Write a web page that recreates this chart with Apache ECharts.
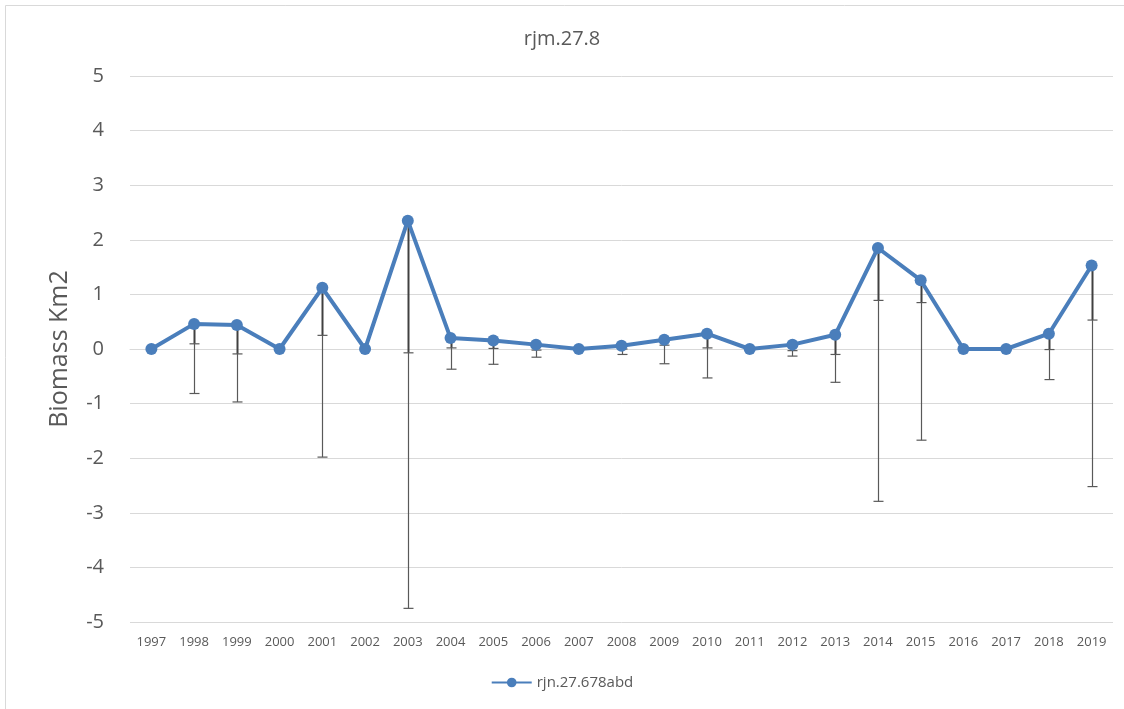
<!DOCTYPE html>
<html>
<head>
<meta charset="utf-8">
<script src="https://cdn.jsdelivr.net/npm/echarts@6/dist/echarts.min.js"></script>
<style>
html,body{margin:0;padding:0;background:#fff;}
#chart{width:1124px;height:709px;}
</style>
</head>
<body>
<div id="chart"></div>
<script>
const years = ['1997','1998','1999','2000','2001','2002','2003','2004','2005','2006','2007','2008','2009','2010','2011','2012','2013','2014','2015','2016','2017','2018','2019'];
const values = [0, 0.46, 0.44, 0, 1.12, 0, 2.35, 0.20, 0.155, 0.08, 0, 0.06, 0.17, 0.28, 0, 0.08, 0.26, 1.85, 1.26, 0, 0, 0.28, 1.53];
const errUpper = [null, 0.095, -0.09, null, 0.25, null, -0.07, 0.02, 0.01, -0.02, null, 0.0, 0.07, 0.02, null, -0.03, -0.10, 0.89, 0.85, null, null, -0.01, 0.53];
const errLower = [null, -0.815, -0.97, null, -1.98, null, -4.75, -0.37, -0.28, -0.15, null, -0.10, -0.27, -0.53, null, -0.13, -0.61, -2.79, -1.67, null, null, -0.56, -2.52];
const yTicks = [-5, -4, -3, -2, -1, 0, 1, 2, 3, 4, 5];
const seriesName = 'rjn.27.678abd';
const titleText = 'rjm.27.8';
const yName = 'Biomass Km2';

const FONT = '"Open Sans", "Noto Sans", sans-serif';
const TXT = '#595959';
const errData = years.map((y, i) => [i, values[i], errUpper[i], errLower[i]]).filter(d => d[2] !== null);

const chart = echarts.init(document.getElementById('chart'));
chart.setOption({
  animation: false,
  backgroundColor: '#fff',
  title: {
    text: titleText, left: 'center', top: 24,
    textStyle: { fontFamily: FONT, fontSize: 20, fontWeight: 'normal', color: TXT }
  },
  graphic: [
    { type: 'polyline', shape: { points: [[5.5, 709], [5.5, 5.5], [1124, 5.5]] }, style: { stroke: '#d9d9d9', lineWidth: 1, fill: null }, silent: true }
  ],
  legend: {
    bottom: 14, left: 'center',
    itemWidth: 40, itemHeight: 12, itemGap: 4,
    textStyle: { fontFamily: FONT, fontSize: 15, color: TXT },
    data: [seriesName]
  },
  grid: { left: 130, right: 11, top: 76, bottom: 87 },
  xAxis: {
    type: 'category', data: years, boundaryGap: true,
    axisLine: { show: true, lineStyle: { color: '#d9d9d9' } },
    axisTick: { show: false },
    axisLabel: { fontFamily: FONT, fontSize: 13, color: TXT, margin: 14, interval: 0 },
    splitLine: { show: false }
  },
  yAxis: {
    type: 'value', min: yTicks[0], max: yTicks[yTicks.length - 1], interval: 1,
    name: yName, nameLocation: 'middle', nameGap: 58,
    nameTextStyle: { fontFamily: FONT, fontSize: 25, color: TXT },
    axisLine: { show: false }, axisTick: { show: false },
    axisLabel: { fontFamily: FONT, fontSize: 20, color: TXT, margin: 26 },
    splitLine: { lineStyle: { color: '#d9d9d9', width: 1 } }
  },
  series: [
    {
      type: 'custom', name: 'err', z: 1, silent: true,
      data: errData,
      encode: { x: 0, y: [1, 2, 3] },
      renderItem: function (params, api) {
        const x = api.value(0);
        const pV = api.coord([x, api.value(1)]);
        const pH = api.coord([x, api.value(2)]);
        const pL = api.coord([x, api.value(3)]);
        const cx = Math.round(pV[0]) + 0.5;
        const cap = 5;
        const col = '#595959';
        return {
          type: 'group',
          children: [
            { type: 'line', shape: { x1: cx, y1: pV[1], x2: cx, y2: pH[1] }, style: { stroke: '#404040', lineWidth: 2 } },
            { type: 'line', shape: { x1: cx, y1: pH[1], x2: cx, y2: pL[1] }, style: { stroke: col, lineWidth: 1.2 } },
            { type: 'line', shape: { x1: cx - cap, y1: pH[1], x2: cx + cap, y2: pH[1] }, style: { stroke: col, lineWidth: 1.2 } },
            { type: 'line', shape: { x1: cx - cap, y1: pL[1], x2: cx + cap, y2: pL[1] }, style: { stroke: col, lineWidth: 1.2 } }
          ]
        };
      }
    },
    {
      type: 'line', name: seriesName, z: 3,
      data: values,
      symbol: 'circle', symbolSize: 12,
      itemStyle: { color: '#4a7ebb' },
      lineStyle: { color: '#4a7ebb', width: 4 }
    }
  ]
});
</script>
</body>
</html>
